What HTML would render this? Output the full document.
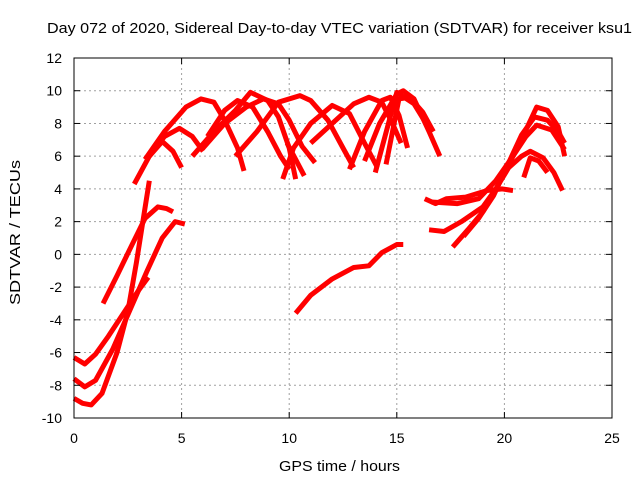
<!DOCTYPE html>
<html><head><meta charset="utf-8"><style>
html,body{margin:0;padding:0;background:#fff;}
svg{display:block;font-family:"Liberation Sans",sans-serif;}
</style></head><body>
<svg id="chart" width="640" height="480" xmlns="http://www.w3.org/2000/svg">
<rect x="0" y="0" width="640" height="480" fill="#fff"/>
<g id="grid"></g>
<g id="series"></g>
<rect x="74" y="58" width="538" height="360" fill="none" stroke="#000" stroke-width="1"/>
<g id="ticks"></g>
<text x="47" y="33" font-size="15" textLength="585" lengthAdjust="spacingAndGlyphs">Day 072 of 2020, Sidereal Day-to-day VTEC variation (SDTVAR) for receiver ksu1</text>
<text x="279" y="471" font-size="15" textLength="121" lengthAdjust="spacingAndGlyphs">GPS time / hours</text>
<text x="0" y="0" font-size="15" textLength="145" lengthAdjust="spacingAndGlyphs" transform="translate(20 305) rotate(-90)">SDTVAR / TECUs</text>
</svg>
<script>
const xTicks=[0,5,10,15,20,25];
const yTicks=[-10,-8,-6,-4,-2,0,2,4,6,8,10,12];
const trackA=[[1.35,-3.0],[2,-1.3],[2.7,0.6],[3.3,2.2],[3.9,2.9],[4.3,2.8],[4.6,2.6]];
const trackB=[[0,-6.3],[0.5,-6.7],[1,-6.1],[1.6,-5.0],[2.4,-3.4],[3.0,-2.2],[3.45,-1.4]];
const trackC=[[0,-7.6],[0.5,-8.1],[1,-7.7],[1.8,-5.8],[2.6,-3.4],[3.4,-1.0],[4.1,1.0],[4.7,2.0],[5.15,1.85]];
const trackD=[[0,-8.8],[0.4,-9.1],[0.8,-9.2],[1.3,-8.5],[2,-6.0],[2.5,-3.5],[2.9,-0.5],[3.2,2.0],[3.5,4.5]];
const arc1=[[2.8,4.3],[3.5,6.0],[4.2,7.2],[4.9,7.7],[5.5,7.2],[6.0,6.3]];
const arc2=[[3.5,6.0],[4.1,6.9],[4.6,6.3],[5.0,5.3]];
const arc3=[[3.3,5.8],[4.2,7.5],[5.2,9.0],[5.9,9.5],[6.5,9.3],[7.0,8.2],[7.6,6.5],[7.9,5.1]];
const arc5=[[5.5,6.0],[6.5,7.5],[7.5,8.8],[8.2,9.9],[9.0,9.4],[9.5,8.4],[10.0,6.5],[10.3,4.6]];
const arc6=[[6.0,6.5],[7.0,8.0],[8.0,9.0],[8.8,9.5],[9.5,9.2],[10.0,8.2],[10.6,6.6],[11.2,5.6]];
const arc7=[[6.2,7.2],[7.0,8.8],[7.6,9.4],[8.3,9.0],[9.0,7.5],[9.6,6.0],[10.0,5.2]];
const arc8=[[7.5,6.0],[8.5,7.5],[9.5,9.3],[10.5,9.7],[11.0,9.4],[11.8,8.2],[12.5,6.5],[13.0,5.3]];
const arc9=[[9.7,4.6],[10.2,6.5],[11.0,8.0],[12.0,9.1],[12.8,8.6],[13.5,6.8],[14.1,5.3]];
const arc10=[[9.9,6.8],[10.3,5.8],[10.7,4.8]];
const arc11=[[11.0,6.8],[12.0,8.0],[13.0,9.2],[13.7,9.6],[14.3,9.3],[14.8,8.0],[15.2,6.8]];
const arc12=[[13.5,5.7],[14.2,8.0],[15.0,9.8],[15.3,10.0],[15.8,9.5],[16.5,7.5],[17.0,6.0]];
const arc13=[[12.8,5.2],[13.5,7.5],[14.3,9.4],[14.7,9.6],[15.1,8.5],[15.5,6.5]];
const arc14=[[14.5,5.5],[15.1,9.5],[15.6,9.6],[16.2,8.7],[16.7,7.5]];
const arc15=[[14.0,5.0],[15.0,9.9],[15.8,9.2],[16.5,7.7]];
const midTrack=[[10.3,-3.6],[11.0,-2.5],[12.0,-1.5],[13.0,-0.8],[13.7,-0.7],[14.3,0.1],[15.0,0.6],[15.3,0.6]];
const right1=[[16.3,3.4],[16.8,3.1],[17.3,3.4],[18.2,3.5],[19.2,3.9],[19.9,4.0],[20.4,3.9]];
const right2=[[16.5,1.5],[17.2,1.4],[18.0,2.0],[19.0,2.9],[19.6,4.0],[20.2,5.3],[20.8,6.0],[21.2,6.3],[21.8,5.9],[22.3,5.0],[22.7,3.9]];
const right3=[[17.6,0.45],[18.3,1.5],[19.0,2.6],[19.7,4.2],[20.4,6.0],[21.0,7.6],[21.5,9.0],[22.0,8.8],[22.5,7.8],[22.8,6.0]];
const right4=[[18.1,1.1],[18.8,2.2],[19.5,3.6],[20.2,5.6],[20.8,7.3],[21.4,8.4],[22.0,8.2],[22.5,7.5],[22.8,6.8]];
const right5=[[16.6,3.2],[17.8,3.1],[18.8,3.4],[19.6,4.5],[20.4,6.0],[21.0,7.2],[21.5,7.9],[22.2,7.6],[22.8,6.4]];
const right6=[[20.9,4.7],[21.2,5.9],[21.6,5.7],[22.0,5.0]];
const tracks=[trackA,trackB,trackC,trackD,arc1,arc2,arc3,arc5,arc6,arc7,arc8,arc9,arc10,arc11,arc12,arc13,arc14,arc15,midTrack,right1,right2,right3,right4,right5,right6];

const NS="http://www.w3.org/2000/svg";
function xs(h){return 74+(h-0)/25*538;}
function ys(v){return 58+(12-v)/22*360;}
const grid=document.getElementById('grid'),ticks=document.getElementById('ticks'),ser=document.getElementById('series');
function mk(tag,attrs,parent){const e=document.createElementNS(NS,tag);for(const k in attrs)e.setAttribute(k,attrs[k]);parent.appendChild(e);return e;}
xTicks.forEach(t=>{
  const x=xs(t);
  if(t>0&&t<25){const g=mk('line',{x1:x,x2:x,y1:58,y2:418,stroke:'#a0a0a0','stroke-dasharray':'2,3'},grid);
  
  }
  const l=mk('line',{x1:x,x2:x,y1:418,y2:412,stroke:'#000'},ticks);
  
  
  const l2=mk('line',{x1:x,x2:x,y1:58,y2:64,stroke:'#000'},ticks);
  
  
  const tx=mk('text',{x:x,y:443,'text-anchor':'middle','font-size':'14'},ticks);tx.textContent=t;
  
  
});
yTicks.forEach(t=>{
  const y=ys(t);
  if(t>-10&&t<12){const g=mk('line',{x1:74,x2:612,y1:y,y2:y,stroke:'#a0a0a0','stroke-dasharray':'2,3'},grid);
  
  }
  const l=mk('line',{x1:74,x2:80,y1:y,y2:y,stroke:'#000'},ticks);
  
  
  const l2=mk('line',{x1:606,x2:612,y1:y,y2:y,stroke:'#000'},ticks);
  
  
  const tx=mk('text',{x:62,y:y+5,'text-anchor':'end','font-size':'14'},ticks);tx.textContent=t;
  
  
});
tracks.forEach(tr=>{
  const p=mk('polyline',{points:tr.map(d=>xs(d[0])+','+ys(d[1])).join(' '),fill:'none',stroke:'#ff0000','stroke-width':'5','stroke-linejoin':'round'},ser);
  
  
});
</script>
</body></html>
